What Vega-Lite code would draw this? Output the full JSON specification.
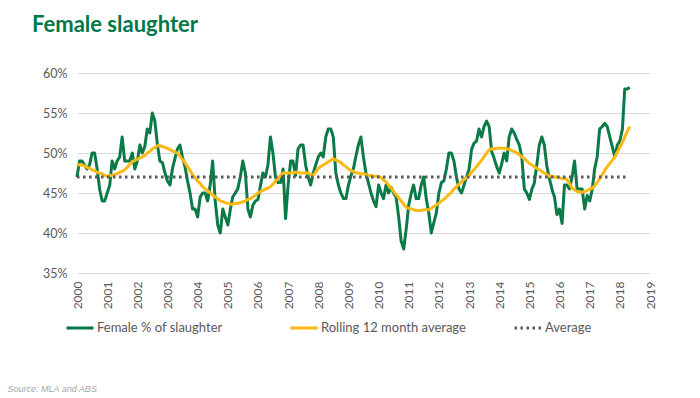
{
"$schema": "https://vega.github.io/schema/vega-lite/v6.json",
"autosize": "none",
"width": 573,
"height": 200,
"padding": {"left": 77, "top": 73, "right": 50, "bottom": 125},
"background": "white",
"title": {"text": "Female slaughter", "anchor": "start", "frame": "group", "font": "Lato", "fontSize": 22, "fontWeight": "bold", "color": "#00784A", "dx": -45, "offset": 30},
"config": {"view": {"stroke": null}},
"data": {"values": [
{"d":"2000-01-01","f":47,"r":48.6,"a":47},{"d":"2000-02-01","f":49,"r":48.5},{"d":"2000-03-01","f":49,"r":48.5},{"d":"2000-04-01","f":48.5,"r":48.4},{"d":"2000-05-01","f":48,"r":48.2},{"d":"2000-06-01","f":48.5,"r":48.1},{"d":"2000-07-01","f":50,"r":47.9},{"d":"2000-08-01","f":50,"r":47.8},{"d":"2000-09-01","f":48,"r":47.6},{"d":"2000-10-01","f":45.5,"r":47.5},{"d":"2000-11-01","f":44,"r":47.4},{"d":"2000-12-01","f":44,"r":47.2},
{"d":"2001-01-01","f":45,"r":47.1},{"d":"2001-02-01","f":46,"r":47.2},{"d":"2001-03-01","f":49,"r":47.2},{"d":"2001-04-01","f":48,"r":47.3},{"d":"2001-05-01","f":49,"r":47.4},{"d":"2001-06-01","f":49.5,"r":47.6},{"d":"2001-07-01","f":52,"r":47.7},{"d":"2001-08-01","f":49,"r":47.9},{"d":"2001-09-01","f":49,"r":48.2},{"d":"2001-10-01","f":49,"r":48.6},{"d":"2001-11-01","f":50,"r":48.9},{"d":"2001-12-01","f":48,"r":49.1},
{"d":"2002-01-01","f":49,"r":49.2},{"d":"2002-02-01","f":51,"r":49.4},{"d":"2002-03-01","f":50,"r":49.5},{"d":"2002-04-01","f":50.8,"r":49.7},{"d":"2002-05-01","f":53,"r":50.0},{"d":"2002-06-01","f":52.5,"r":50.2},{"d":"2002-07-01","f":55,"r":50.5},{"d":"2002-08-01","f":54,"r":50.7},{"d":"2002-09-01","f":51,"r":50.9},{"d":"2002-10-01","f":49,"r":50.9},{"d":"2002-11-01","f":48.8,"r":50.8},{"d":"2002-12-01","f":47.5,"r":50.7},
{"d":"2003-01-01","f":46.5,"r":50.6},{"d":"2003-02-01","f":46,"r":50.4},{"d":"2003-03-01","f":48,"r":50.3},{"d":"2003-04-01","f":49.3,"r":50.1},{"d":"2003-05-01","f":50.5,"r":50.0},{"d":"2003-06-01","f":51,"r":49.6},{"d":"2003-07-01","f":49.5,"r":49.2},{"d":"2003-08-01","f":48.3,"r":48.8},{"d":"2003-09-01","f":46.5,"r":48.3},{"d":"2003-10-01","f":45,"r":47.8},{"d":"2003-11-01","f":43,"r":47.3},{"d":"2003-12-01","f":43,"r":46.9},
{"d":"2004-01-01","f":42,"r":46.5},{"d":"2004-02-01","f":44.5,"r":46.2},{"d":"2004-03-01","f":45,"r":45.8},{"d":"2004-04-01","f":45,"r":45.5},{"d":"2004-05-01","f":44,"r":45.3},{"d":"2004-06-01","f":46,"r":45.0},{"d":"2004-07-01","f":49,"r":44.8},{"d":"2004-08-01","f":44,"r":44.5},{"d":"2004-09-01","f":41,"r":44.3},{"d":"2004-10-01","f":40,"r":44.0},{"d":"2004-11-01","f":43,"r":43.9},{"d":"2004-12-01","f":42,"r":43.8},
{"d":"2005-01-01","f":41,"r":43.7},{"d":"2005-02-01","f":43,"r":43.6},{"d":"2005-03-01","f":44.5,"r":43.6},{"d":"2005-04-01","f":45,"r":43.7},{"d":"2005-05-01","f":45.5,"r":43.7},{"d":"2005-06-01","f":47,"r":43.8},{"d":"2005-07-01","f":49,"r":43.9},{"d":"2005-08-01","f":47.5,"r":44.0},{"d":"2005-09-01","f":43,"r":44.2},{"d":"2005-10-01","f":42,"r":44.3},{"d":"2005-11-01","f":43.5,"r":44.5},{"d":"2005-12-01","f":44,"r":44.7},
{"d":"2006-01-01","f":44.2,"r":45.0},{"d":"2006-02-01","f":46,"r":45.2},{"d":"2006-03-01","f":47.5,"r":45.3},{"d":"2006-04-01","f":47,"r":45.5},{"d":"2006-05-01","f":48.5,"r":45.6},{"d":"2006-06-01","f":52,"r":45.8},{"d":"2006-07-01","f":50,"r":46.1},{"d":"2006-08-01","f":47,"r":46.5},{"d":"2006-09-01","f":46.3,"r":46.8},{"d":"2006-10-01","f":46.3,"r":47.2},{"d":"2006-11-01","f":48,"r":47.5},{"d":"2006-12-01","f":41.8,"r":47.5},
{"d":"2007-01-01","f":46,"r":47.5},{"d":"2007-02-01","f":49,"r":47.5},{"d":"2007-03-01","f":49,"r":47.5},{"d":"2007-04-01","f":47.2,"r":47.6},{"d":"2007-05-01","f":50.5,"r":47.6},{"d":"2007-06-01","f":51,"r":47.5},{"d":"2007-07-01","f":51,"r":47.5},{"d":"2007-08-01","f":48.5,"r":47.5},{"d":"2007-09-01","f":47,"r":47.5},{"d":"2007-10-01","f":46,"r":47.3},{"d":"2007-11-01","f":47.5,"r":47.2},{"d":"2007-12-01","f":48.5,"r":47.6},
{"d":"2008-01-01","f":49.5,"r":48.1},{"d":"2008-02-01","f":50,"r":48.3},{"d":"2008-03-01","f":49.5,"r":48.5},{"d":"2008-04-01","f":52,"r":48.7},{"d":"2008-05-01","f":53,"r":48.9},{"d":"2008-06-01","f":53,"r":49.1},{"d":"2008-07-01","f":52,"r":49.3},{"d":"2008-08-01","f":47.5,"r":49.1},{"d":"2008-09-01","f":46,"r":49.0},{"d":"2008-10-01","f":45,"r":48.8},{"d":"2008-11-01","f":44.3,"r":48.5},{"d":"2008-12-01","f":44.3,"r":48.3},
{"d":"2009-01-01","f":46,"r":48.0},{"d":"2009-02-01","f":47.2,"r":47.8},{"d":"2009-03-01","f":48,"r":47.7},{"d":"2009-04-01","f":49.6,"r":47.5},{"d":"2009-05-01","f":51,"r":47.5},{"d":"2009-06-01","f":52,"r":47.4},{"d":"2009-07-01","f":49.5,"r":47.4},{"d":"2009-08-01","f":47.5,"r":47.3},{"d":"2009-09-01","f":46.2,"r":47.2},{"d":"2009-10-01","f":45,"r":47.2},{"d":"2009-11-01","f":44,"r":47.1},{"d":"2009-12-01","f":43.3,"r":47.1},
{"d":"2010-01-01","f":46,"r":47.1},{"d":"2010-02-01","f":45,"r":46.9},{"d":"2010-03-01","f":44.3,"r":46.6},{"d":"2010-04-01","f":46,"r":46.4},{"d":"2010-05-01","f":45,"r":46.0},{"d":"2010-06-01","f":45.7,"r":45.6},{"d":"2010-07-01","f":45,"r":45.2},{"d":"2010-08-01","f":44.5,"r":44.8},{"d":"2010-09-01","f":42,"r":44.4},{"d":"2010-10-01","f":39,"r":44.0},{"d":"2010-11-01","f":38,"r":43.6},{"d":"2010-12-01","f":40.5,"r":43.2},
{"d":"2011-01-01","f":43.5,"r":43.1},{"d":"2011-02-01","f":45,"r":43.0},{"d":"2011-03-01","f":46,"r":42.9},{"d":"2011-04-01","f":44.3,"r":42.8},{"d":"2011-05-01","f":44.3,"r":42.8},{"d":"2011-06-01","f":46,"r":42.8},{"d":"2011-07-01","f":47,"r":42.9},{"d":"2011-08-01","f":44.3,"r":42.9},{"d":"2011-09-01","f":42.5,"r":42.9},{"d":"2011-10-01","f":40,"r":43.1},{"d":"2011-11-01","f":41.3,"r":43.3},{"d":"2011-12-01","f":42.5,"r":43.5},
{"d":"2012-01-01","f":45,"r":43.7},{"d":"2012-02-01","f":46.3,"r":44.0},{"d":"2012-03-01","f":46.5,"r":44.2},{"d":"2012-04-01","f":48,"r":44.5},{"d":"2012-05-01","f":50,"r":44.8},{"d":"2012-06-01","f":50,"r":45.1},{"d":"2012-07-01","f":49,"r":45.5},{"d":"2012-08-01","f":47,"r":45.8},{"d":"2012-09-01","f":45.5,"r":46.1},{"d":"2012-10-01","f":45,"r":46.4},{"d":"2012-11-01","f":46,"r":46.7},{"d":"2012-12-01","f":47,"r":46.9},
{"d":"2013-01-01","f":48,"r":47.2},{"d":"2013-02-01","f":50.5,"r":47.6},{"d":"2013-03-01","f":51.2,"r":47.9},{"d":"2013-04-01","f":51.5,"r":48.3},{"d":"2013-05-01","f":53,"r":48.7},{"d":"2013-06-01","f":52,"r":49.1},{"d":"2013-07-01","f":53.3,"r":49.5},{"d":"2013-08-01","f":54,"r":50.0},{"d":"2013-09-01","f":53.3,"r":50.4},{"d":"2013-10-01","f":50.2,"r":50.5},{"d":"2013-11-01","f":49.3,"r":50.5},{"d":"2013-12-01","f":48.3,"r":50.6},
{"d":"2014-01-01","f":47.5,"r":50.6},{"d":"2014-02-01","f":48.7,"r":50.6},{"d":"2014-03-01","f":50,"r":50.6},{"d":"2014-04-01","f":49,"r":50.5},{"d":"2014-05-01","f":52,"r":50.5},{"d":"2014-06-01","f":53,"r":50.3},{"d":"2014-07-01","f":52.5,"r":50.2},{"d":"2014-08-01","f":51.7,"r":50.0},{"d":"2014-09-01","f":51,"r":49.8},{"d":"2014-10-01","f":49.5,"r":49.5},{"d":"2014-11-01","f":45.5,"r":49.3},{"d":"2014-12-01","f":45,"r":49.0},
{"d":"2015-01-01","f":44.2,"r":48.7},{"d":"2015-02-01","f":45.5,"r":48.5},{"d":"2015-03-01","f":46.2,"r":48.3},{"d":"2015-04-01","f":48.5,"r":48.1},{"d":"2015-05-01","f":51,"r":47.9},{"d":"2015-06-01","f":52,"r":47.7},{"d":"2015-07-01","f":51,"r":47.5},{"d":"2015-08-01","f":48.3,"r":47.3},{"d":"2015-09-01","f":46.8,"r":47.1},{"d":"2015-10-01","f":45.5,"r":47.1},{"d":"2015-11-01","f":44.5,"r":47.0},{"d":"2015-12-01","f":42.3,"r":47.0},
{"d":"2016-01-01","f":43,"r":46.9},{"d":"2016-02-01","f":41.2,"r":46.8},{"d":"2016-03-01","f":46,"r":46.8},{"d":"2016-04-01","f":46,"r":46.7},{"d":"2016-05-01","f":45.5,"r":46.2},{"d":"2016-06-01","f":47,"r":45.6},{"d":"2016-07-01","f":49,"r":45.4},{"d":"2016-08-01","f":45.5,"r":45.2},{"d":"2016-09-01","f":45.5,"r":45.1},{"d":"2016-10-01","f":45.5,"r":45.1},{"d":"2016-11-01","f":43,"r":45.2},{"d":"2016-12-01","f":44.7,"r":45.3},
{"d":"2017-01-01","f":44,"r":45.5},{"d":"2017-02-01","f":45.5,"r":45.6},{"d":"2017-03-01","f":48,"r":45.9},{"d":"2017-04-01","f":49.5,"r":46.3},{"d":"2017-05-01","f":53,"r":46.8},{"d":"2017-06-01","f":53.3,"r":47.3},{"d":"2017-07-01","f":53.7,"r":47.8},{"d":"2017-08-01","f":53.3,"r":48.3},{"d":"2017-09-01","f":52,"r":48.7},{"d":"2017-10-01","f":50.8,"r":49.1},{"d":"2017-11-01","f":49.5,"r":49.5},{"d":"2017-12-01","f":51,"r":50.1},
{"d":"2018-01-01","f":51.5,"r":50.7},{"d":"2018-02-01","f":53,"r":51.3},{"d":"2018-03-01","f":58,"r":52.0},{"d":"2018-04-01","f":58,"r":52.7,"a":47},{"d":"2018-05-01","f":58.2,"r":53.3}
]},
"transform": [{"fold": ["f", "r", "a"], "as": ["s", "v"]}, {"filter": {"field": "v", "valid": true}}],
"mark": {"type": "line", "strokeWidth": 3, "strokeJoin": "round"},
"encoding": {
  "x": {"field": "d", "type": "temporal",
        "scale": {"type": "utc", "domain": ["2000-01-01", "2019-01-01"]},
        "axis": {"title": "Source: MLA and ABS", "titleFont": "Liberation Sans", "titleFontStyle": "italic", "titleFontWeight": "normal", "titleFontSize": 9, "titleColor": "#A6A6A6", "titleAnchor": "start", "titleAlign": "left", "titleX": -70, "titleY": 115, "titleBaseline": "middle",
                 "tickCount": {"interval": "year", "step": 1}, "format": "%Y", "labelAngle": 270, "labelPadding": 8, "labelFont": "Lato", "labelFontSize": 12, "labelColor": "#595959", "ticks": false, "domain": false, "grid": false}},
  "y": {"field": "v", "type": "quantitative",
        "scale": {"domain": [35, 60], "nice": false, "zero": false},
        "axis": {"title": null, "values": [35, 40, 45, 50, 55, 60], "labelExpr": "datum.value + '%'", "labelFont": "Lato", "labelFontSize": 12.5, "labelColor": "#595959", "labelPadding": 10, "ticks": false, "domain": false, "grid": true, "gridColor": "#D9D9D9", "gridWidth": 1}},
  "color": {"field": "s", "type": "nominal",
            "scale": {"domain": ["f", "r", "a"], "range": ["#0A7A48", "#FDB913", "#595959"]},
            "legend": {"title": null, "orient": "none", "legendX": -12, "legendY": 240, "direction": "horizontal", "columns": 3, "gridAlign": "all", "columnPadding": 42, "symbolType": "stroke", "symbolSize": 729, "symbolStrokeWidth": 3, "labelFont": "Lato", "labelFontSize": 13, "labelColor": "#595959", "labelOffset": 2,
                       "labelExpr": "datum.value == 'f' ? 'Female % of slaughter' : datum.value == 'r' ? 'Rolling 12 month average' : 'Average'"}},
  "strokeDash": {"field": "s", "type": "nominal",
            "scale": {"domain": ["f", "r", "a"], "range": [[1, 0], [1, 0], [2.5, 3.5]]},
            "legend": {"title": null, "orient": "none", "legendX": -12, "legendY": 240, "direction": "horizontal", "columns": 3, "gridAlign": "all", "columnPadding": 42, "symbolType": "stroke", "symbolSize": 729, "symbolStrokeWidth": 3, "labelFont": "Lato", "labelFontSize": 13, "labelColor": "#595959", "labelOffset": 2,
                       "labelExpr": "datum.value == 'f' ? 'Female % of slaughter' : datum.value == 'r' ? 'Rolling 12 month average' : 'Average'"}}
}
}
